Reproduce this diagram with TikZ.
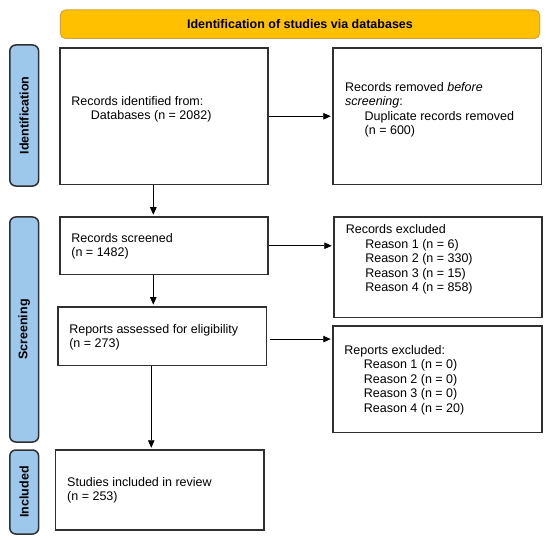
\documentclass[tikz,border=0pt]{standalone}
\usepackage{fontspec}
\setmainfont{Liberation Sans}
\usetikzlibrary{arrows.meta}
\definecolor{headfill}{HTML}{FFC000}
\definecolor{headline}{HTML}{D9A13A}
\definecolor{sidefill}{HTML}{9DC8EC}
\definecolor{boxline}{HTML}{303030}
\begin{document}
\begin{tikzpicture}[x=1bp,y=-1bp,
  every node/.style={font=\fontsize{12.5bp}{14.5bp}\selectfont},
  box/.style={draw=boxline,line width=1.5bp,inner sep=0pt},
  txt/.style={anchor=west,align=left,inner sep=0pt},
  side/.style={draw=boxline,fill=sidefill,line width=1.5bp,rounded corners=6bp,
    minimum width=28.8bp,inner sep=0pt},
  arr/.style={-{Triangle[length=7.5bp,width=6.5bp]},line width=0.8bp,shorten >=1.5bp}]
   \useasboundingbox (0,0) rectangle (550,540);
   % header and phase labels
   \node [draw=headline,fill=headfill,line width=1bp,rounded corners=5bp,
     minimum width=479bp,minimum height=28.5bp] (head) at (300,24.25)
     {\bfseries Identification of studies via databases};
   \node [side,minimum height=141bp] (sideid) at (24.2,115.5)
     {\rotatebox{90}{\bfseries Identification}};
   \node [side,minimum height=225bp] (sidescr) at (24.2,329.5)
     {\rotatebox{90}{\bfseries Screening}};
   \node [side,minimum height=84bp] (sideinc) at (24.2,492)
     {\rotatebox{90}{\bfseries Included}};
   % boxes
   \node [box,minimum width=208bp,minimum height=136.5bp] (ident) at (164,116.25) {};
   \node [box,minimum width=208.5bp,minimum height=136.5bp] (removed) at (437.25,116.25) {};
   \node [box,minimum width=208bp,minimum height=57.5bp] (screen) at (164,245.75) {};
   \node [box,minimum width=208bp,minimum height=100.5bp] (excl) at (438,267.35) {};
   \node [box,minimum width=208.7bp,minimum height=58.5bp] (assess) at (162.35,336.1) {};
   \node [box,minimum width=209bp,minimum height=106.3bp] (repexcl) at (437.5,379.15) {};
   \node [box,minimum width=208.6bp,minimum height=80bp] (incl) at (159.7,490) {};
   % texts
   \node [txt] (identtxt) at (71.2,109.5) {Records identified from:\\
     \hspace*{19.5bp}Databases (n = 2082)};
   \node [txt] (removedtxt) at (345,110) {Records removed \emph{before}\\
     \emph{screening}:\\
     \hspace*{19.5bp}Duplicate records removed\\
     \hspace*{19.5bp}(n = 600)};
   \node [txt] (screentxt) at (71.2,246.5) {Records screened\\(n = 1482)};
   \node [txt] (excltxt) at (345.6,259.5) {Records excluded\\
     \hspace*{19.5bp}Reason 1 (n = 6)\\
     \hspace*{19.5bp}Reason 2 (n = 330)\\
     \hspace*{19.5bp}Reason 3 (n = 15)\\
     \hspace*{19.5bp}Reason 4 (n = 858)};
   \node [txt] (assesstxt) at (69.1,337.5) {Reports assessed for eligibility\\(n = 273)};
   \node [txt] (repexcltxt) at (344.2,380) {Reports excluded:\\
     \hspace*{19.5bp}Reason 1 (n = 0)\\
     \hspace*{19.5bp}Reason 2 (n = 0)\\
     \hspace*{19.5bp}Reason 3 (n = 0)\\
     \hspace*{19.5bp}Reason 4 (n = 20)};
   \node [txt] (incltxt) at (67,490.5) {Studies included in review\\(n = 253)};
   % arrows
   \draw [arr] ([xshift=-10.7bp]ident.south) -- ([xshift=-10.7bp]ident.south |- screen.north);
   \draw [arr] ([xshift=-10.7bp]screen.south) -- ([xshift=-10.7bp]screen.south |- assess.north);
   \draw [arr] ([xshift=-11.1bp]assess.south) -- ([xshift=-11.1bp]assess.south |- incl.north);
   \draw [arr] (ident.east) -- (ident.east -| removed.west);
   \draw [arr] (screen.east) -- (screen.east -| excl.west);
   \draw [arr,shorten <=3bp] ([yshift=-3bp]assess.east) -- ([yshift=-3bp]assess.east -| repexcl.west);
\end{tikzpicture}
\end{document}
